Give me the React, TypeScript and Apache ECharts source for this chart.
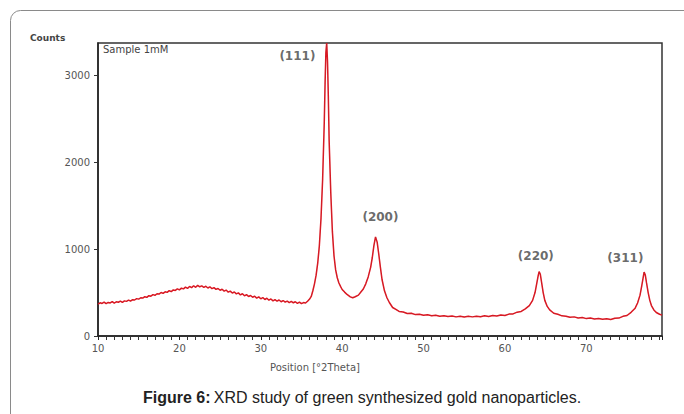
import React, { useEffect, useRef } from "react";
import * as echarts from "echarts";

const theta: number[] = [
  10, 10.25, 10.5, 10.75, 11, 11.25, 11.5, 11.75, 12, 12.25, 12.5, 12.75, 13, 13.25, 13.5, 13.75,
  14, 14.25, 14.5, 14.75, 15, 15.25, 15.5, 15.75, 16, 16.25, 16.5, 16.75, 17, 17.25, 17.5, 17.75,
  18, 18.25, 18.5, 18.75, 19, 19.25, 19.5, 19.75, 20, 20.25, 20.5, 20.75, 21, 21.25, 21.5, 21.75,
  22, 22.25, 22.5, 22.75, 23, 23.25, 23.5, 23.75, 24, 24.25, 24.5, 24.75, 25, 25.25, 25.5, 25.75,
  26, 26.25, 26.5, 26.75, 27, 27.25, 27.5, 27.75, 28, 28.25, 28.5, 28.75, 29, 29.25, 29.5, 29.75,
  30, 30.25, 30.5, 30.75, 31, 31.25, 31.5, 31.75, 32, 32.25, 32.5, 32.75, 33, 33.25, 33.5, 33.75,
  34, 34.25, 34.5, 34.75, 35, 35.25, 35.5, 35.75, 36,
  36.2, 36.4, 36.6, 36.8, 37.0, 37.2, 37.4, 37.6, 37.8, 37.9, 38.0, 38.1, 38.2, 38.3, 38.4, 38.6, 38.8,
  39.0, 39.2, 39.4, 39.6, 39.8, 40.0, 40.3, 40.6, 41.0, 41.3, 41.6, 42.0, 42.3, 42.6, 42.9, 43.2, 43.5,
  43.7, 43.9, 44.1, 44.3, 44.5, 44.7, 44.9, 45.2, 45.5, 45.8, 46.2, 46.6, 47.0, 47.5, 48.0, 48.5, 49.0,
  49.5, 50.0, 50.5, 51.0, 51.5, 52.0, 52.5, 53.0, 53.5, 54.0, 54.5, 55.0, 55.5, 56.0, 56.5, 57.0, 57.5,
  58.0, 58.5, 59.0, 59.5, 60.0, 60.5, 61.0, 61.5, 62.0, 62.5, 63.0, 63.4, 63.7, 63.9, 64.1, 64.2, 64.35,
  64.5, 64.7, 64.9, 65.2, 65.5, 66.0, 66.5, 67.0, 67.5, 68.0, 68.5, 69.0, 69.5, 70.0, 70.5, 71.0, 71.5,
  72.0, 72.5, 73.0, 73.5, 74.0, 74.5, 75.0, 75.5, 76.0, 76.3, 76.6, 76.8, 77.0, 77.1, 77.25, 77.4, 77.6,
  77.8, 78.0, 78.3, 78.6, 79.0, 79.3,
];

const counts: number[] = [
  365, 382, 374, 390, 372, 386, 380, 396, 378, 394, 388, 402, 386, 404, 398, 412,
  402, 418, 414, 430, 424, 440, 436, 452, 444, 464, 458, 476, 468, 486, 482, 500,
  490, 508, 502, 522, 510, 530, 524, 542, 530, 550, 542, 562, 548, 570, 556, 578,
  560, 582, 566, 576, 560, 572, 552, 566, 544, 556, 536, 546, 526, 538, 516, 528,
  504, 516, 494, 506, 484, 496, 472, 486, 462, 476, 454, 466, 446, 458, 436, 450,
  428, 442, 420, 434, 412, 426, 404, 418, 400, 414, 394, 408, 390, 402, 384, 398,
  382, 394, 376, 390, 372, 384, 380, 400, 425,
  455, 520, 600, 700, 840, 1040, 1350, 1800, 2450, 2900, 3260, 3370, 3160, 2760, 2250, 1650, 1200,
  920, 760, 670, 610, 570, 535, 505, 478, 450, 440, 452, 470, 505, 540, 600, 680, 790,
  900, 1040, 1140, 1080, 940, 790, 650, 520, 440, 385, 328, 306, 282, 276, 258, 262, 246,
  250, 238, 244, 232, 238, 226, 234, 224, 230, 220, 228, 218, 226, 220, 228, 222, 232,
  224, 236, 230, 242, 236, 252, 254, 274, 282, 312, 350, 410, 500, 600, 700, 740, 710,
  620, 500, 410, 340, 300, 262, 250, 232, 228, 216, 220, 208, 212, 200, 206, 196, 202,
  192, 198, 190, 204, 206, 226, 236, 272, 320, 380, 470, 570, 680, 736, 700, 610, 500,
  410, 350, 300, 270, 250, 240,
];

const peakLabels: string[] = ["(111)", "(200)", "(220)", "(311)"];
const peakLabelX: number[] = [34.5, 44.7, 63.8, 74.8];
const peakLabelY: number[] = [3218, 1368, 920, 897];

const yTicks: number[] = [0, 1000, 2000, 3000];

export default function App() {
  const ref = useRef<HTMLDivElement>(null);
  useEffect(() => {
    if (!ref.current) return;
    const chart = echarts.init(ref.current, null, { renderer: "svg" });
    const lineData = theta.map((t, i) => [t, counts[i]]);
    const labelData = peakLabels.map((n, i) => ({ value: [peakLabelX[i], peakLabelY[i]], name: n }));
    chart.setOption({
      animation: false,
      backgroundColor: "#ffffff",
      grid: {
        left: 98,
        right: 22,
        top: 43,
        bottom: 78,
        show: true,
        borderColor: "#333",
        borderWidth: 1.5,
      },
      xAxis: {
        type: "value",
        min: 10,
        max: 79.3,
        interval: 10,
        axisLine: { show: true, lineStyle: { color: "#222", width: 1.5 } },
        axisTick: { show: true, length: 4, lineStyle: { color: "#222" } },
        minorTick: { show: true, splitNumber: 10, length: 4, lineStyle: { color: "#333", width: 1 } },
        axisLabel: {
          showMaxLabel: false,
          color: "#555",
          fontSize: 10,
          fontFamily: "DejaVu Sans",
          margin: 7,
        },
        splitLine: { show: false },
      },
      yAxis: {
        type: "value",
        min: 0,
        max: 3370,
        interval: 1000,
        axisLine: { show: true, lineStyle: { color: "#222", width: 1.5 } },
        axisTick: { show: true, length: 4, lineStyle: { color: "#333" } },
        axisLabel: {
          showMaxLabel: false,
          color: "#555",
          fontSize: 10,
          fontFamily: "DejaVu Sans",
          margin: 8,
          formatter: (v: number) => (yTicks.includes(v) ? String(v) : ""),
        },
        splitLine: { show: false },
      },
      series: [
        {
          type: "line",
          data: lineData,
          showSymbol: false,
          lineStyle: { color: "#e5141f", width: 1.5 },
          z: 3,
        },
        {
          type: "line",
          data: lineData,
          showSymbol: false,
          lineStyle: { color: "#555", width: 0.4, opacity: 0.35 },
          z: 4,
        },
        {
          type: "scatter",
          data: labelData,
          symbolSize: 0,
          label: {
            show: true,
            position: "inside",
            formatter: (p: any) => p.name,
            color: "#444",
            fontSize: 12,
            fontWeight: "bold",
            fontFamily: "DejaVu Sans",
          },
          z: 5,
        },
      ],
      graphic: [
        {
          type: "rect",
          shape: { x: 10.5, y: 10.5, width: 720, height: 500, r: 10 },
          style: { fill: "none", stroke: "#8a8a8a", lineWidth: 1 },
          silent: true,
        },
        {
          type: "text",
          left: 30,
          top: 33,
          style: { text: "Counts", fill: "#444", fontSize: 9, fontWeight: "bold", fontFamily: "DejaVu Sans" },
        },
        {
          type: "text",
          left: 103,
          top: 44,
          style: { text: "Sample 1mM", fill: "#444", fontSize: 10, fontFamily: "DejaVu Sans" },
        },
        {
          type: "text",
          x: 315,
          y: 367,
          style: {
            text: "Position [°2Theta]",
            fill: "#555",
            fontSize: 10,
            fontFamily: "DejaVu Sans",
            align: "center",
            verticalAlign: "middle",
          },
        },
        {
          type: "text",
          x: 362,
          y: 397,
          style: {
            text: "{b|Figure 6:} {r|XRD study of green synthesized gold nanoparticles.}",
            align: "center",
            verticalAlign: "middle",
            rich: {
              b: { fontSize: 16, fontWeight: "bold", fill: "#222", fontFamily: "Liberation Sans" },
              r: { fontSize: 16, fill: "#222", fontFamily: "Liberation Sans" },
            },
          },
        },
      ],
    });
    return () => chart.dispose();
  }, []);
  return (
    <div
      ref={ref}
      style={{ position: "fixed", left: 0, top: 0, width: 684, height: 414, background: "#fff" }}
    />
  );
}
